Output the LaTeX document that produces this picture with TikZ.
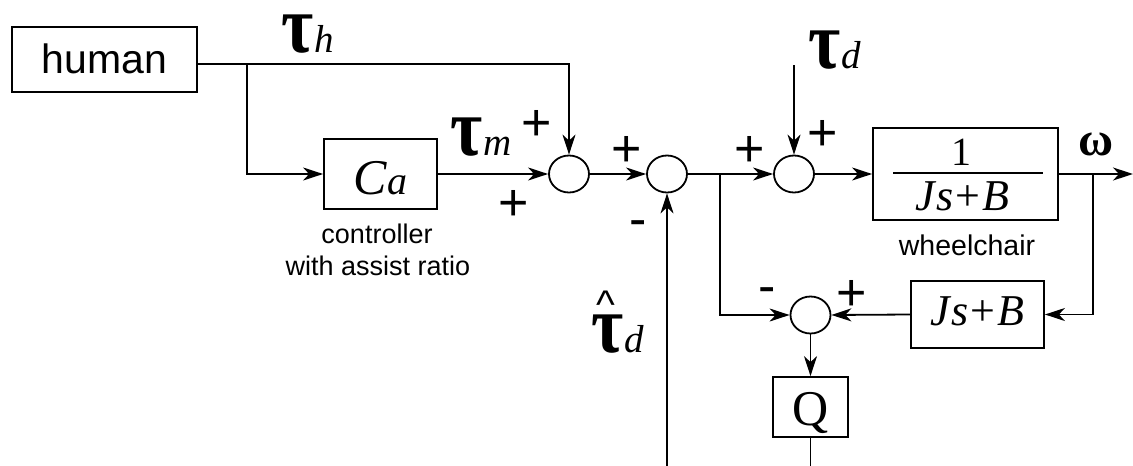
\documentclass[tikz,border=0pt]{standalone}
\usepackage{fontspec}
\setmainfont{Liberation Sans}
\newfontfamily\serif{Liberation Serif}
\usetikzlibrary{arrows.meta,shapes.geometric}
\newcommand\fs[1]{\fontsize{#1}{#1}\selectfont}
\newcommand\taug{\scalebox{0.85}[1]{\serif\bfseries\fs{82}τ}}
\newcommand\tsub[1]{{\serif\itshape\fs{39}#1}}
\newcommand\jsb{{\serif\fs{44}\itshape J\kern0.02em s\kern0.05em\upshape+\kern0.05em\itshape B}}
\begin{document}
\begin{tikzpicture}[x=1pt,y=-1pt,line width=1.8pt,
  arr/.style={-{Stealth[length=20pt,width=13pt,inset=6pt]}},
  blk/.style={draw,inner sep=0,line width=1.8pt},
  sum/.style={draw,ellipse,minimum width=40pt,minimum height=37pt,inner sep=0},
  sgn/.style={inner sep=0,anchor=base,font=\fs{52}},
  lab/.style={inner sep=0,anchor=base west},
  captxt/.style={inner sep=0,anchor=base,font=\fs{27}}]
\useasboundingbox (0,0) rectangle (1133,466);
% blocks
\node[blk,minimum width=185pt,minimum height=65pt,text height=27pt,text depth=0pt,font=\fs{41}] (human) at (104.5,59.5) {human};
\node[blk,minimum width=113pt,minimum height=70pt,text height=40pt,text depth=0pt] (Ca) at (380.5,174) {{\serif\itshape\fs{50}C}{\serif\itshape\fs{40}a}};
\node[blk,minimum width=185pt,minimum height=92pt] (wc) at (965.5,174) {};
\node[blk,minimum width=133pt,minimum height=67pt,text height=21pt,text depth=0pt] (jb) at (977.5,314.5) {\jsb};
\node[blk,minimum width=75pt,minimum height=60pt,text height=36pt,text depth=0pt,font=\serif\fs{50}] (Q) at (810.5,407) {Q};
% fraction in wheelchair block
\node[inner sep=0,anchor=base,font=\serif\fs{40}] (num) at (961.5,165) {1};
\node[inner sep=0,anchor=base] (den) at (962.5,210) {\jsb};
\draw[line width=2pt] (893,173) -- (1043,173);
% summing junctions
\node[sum] (s1) at (569,174) {};
\node[sum] (s2) at (667,174) {};
\node[sum] (s3) at (794,174) {};
\node[sum] (s4) at (810.5,315) {};
% coordinates
\coordinate (b1) at (247,64);
\coordinate (b2) at (720,174);
\coordinate (b3) at (1093,174);
\coordinate (out) at (1133,174);
\coordinate (tdt) at (794,65);
\coordinate (tdin) at (667,466);
\coordinate (qo) at (810.5,466);
% connectors
\draw[arr] (human.east |- b1) -| (s1.north);
\draw[arr] (b1) |- (Ca.west);
\draw[arr] (Ca.east) -- (s1.west);
\draw[arr] (s1.east) -- (s2.west);
\draw[arr] (s2.east) -- (s3.west);
\draw[arr] (b2) |- (s4.west);
\draw[arr] (tdt) -- (s3.north);
\draw[arr] (s3.east) -- (wc.west);
\draw[arr] (wc.east) -- (out);
\draw[arr] (b3) |- (jb.east);
\draw[arr] (jb.west) -- (s4.east);
\draw[arr] (s4.south) -- (Q.north);
\draw (Q.south) -- (qo);
\draw[arr] (tdin) -- (s2.south);
% signal labels
\node[lab] (th) at (281,52) {\taug\tsub{h}};
\node[lab] (tm) at (450,155) {\taug\tsub{m}};
\node[lab] (td) at (808,68) {\taug\tsub{d}};
\node[lab] (tdh) at (591,352) {\makebox[0pt][l]{\raisebox{34pt}{\hspace{5pt}{\fs{40}\textasciicircum}}}\taug\tsub{d}};
\node[lab,font=\serif\bfseries\fs{48}] (om) at (1078,155) {ω};
% signs
\node[sgn] (p1) at (537,140.4) {+};
\node[sgn] (p2) at (514,220.4) {+};
\node[sgn] (p3) at (627,166.4) {+};
\node[sgn] (p4) at (750,166.4) {+};
\node[sgn] (p5) at (823,150.4) {+};
\node[sgn] (p6) at (852,310.4) {+};
\node[sgn] (m1) at (638,236.5) {-};
\node[sgn] (m2) at (767,303.5) {-};
% captions
\node[captxt] (c1) at (377,243) {controller};
\node[captxt] (c2) at (378,275) {with assist ratio};
\node[captxt,font=\fs{28.5}] (c3) at (967,255) {wheelchair};
\end{tikzpicture}
\end{document}
